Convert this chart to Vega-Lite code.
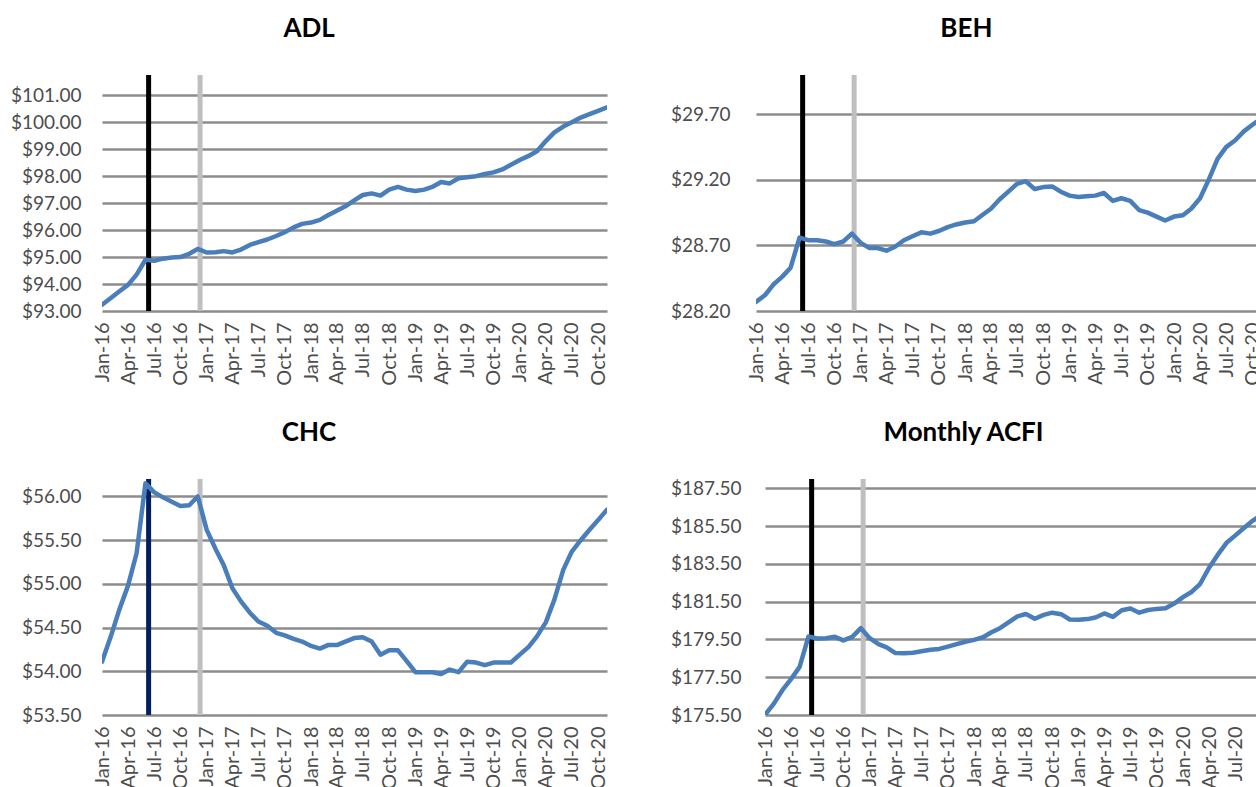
{
  "$schema": "https://vega.github.io/schema/vega-lite/v6.json",
  "padding": {"left": 10, "top": 15, "right": 0, "bottom": 0},
  "background": "white",
  "config": {
    "view": {"stroke": null},
    "font": "Lato",
    "axis": {"labelFont": "Lato", "labelColor": "#4d4d4d", "title": null},
    "title": {"font": "Lato", "fontSize": 26, "fontWeight": "bold", "color": "#000000", "offset": 31, "frame": "bounds", "anchor": "middle", "baseline": "alphabetic"}
  },
  "datasets": {
    "series": [
      {"date": "2016-01-01", "ADL": 93.23, "BEH": 28.27, "CHC": 54.11, "ACFI": 175.50},
      {"date": "2016-02-01", "ADL": 93.48, "BEH": 28.32, "CHC": 54.40, "ACFI": 176.10},
      {"date": "2016-03-01", "ADL": 93.72, "BEH": 28.40, "CHC": 54.70, "ACFI": 176.80},
      {"date": "2016-04-01", "ADL": 93.97, "BEH": 28.46, "CHC": 54.98, "ACFI": 177.40},
      {"date": "2016-05-01", "ADL": 94.35, "BEH": 28.53, "CHC": 55.35, "ACFI": 178.05},
      {"date": "2016-06-01", "ADL": 94.90, "BEH": 28.76, "CHC": 56.15, "ACFI": 179.66},
      {"date": "2016-07-01", "ADL": 94.86, "BEH": 28.74, "CHC": 56.05, "ACFI": 179.55},
      {"date": "2016-08-01", "ADL": 94.94, "BEH": 28.74, "CHC": 55.99, "ACFI": 179.57},
      {"date": "2016-09-01", "ADL": 94.98, "BEH": 28.73, "CHC": 55.94, "ACFI": 179.64},
      {"date": "2016-10-01", "ADL": 95.00, "BEH": 28.71, "CHC": 55.89, "ACFI": 179.45},
      {"date": "2016-11-01", "ADL": 95.12, "BEH": 28.73, "CHC": 55.90, "ACFI": 179.64},
      {"date": "2016-12-01", "ADL": 95.30, "BEH": 28.79, "CHC": 56.00, "ACFI": 180.10},
      {"date": "2017-01-01", "ADL": 95.17, "BEH": 28.72, "CHC": 55.62, "ACFI": 179.57},
      {"date": "2017-02-01", "ADL": 95.18, "BEH": 28.68, "CHC": 55.40, "ACFI": 179.25},
      {"date": "2017-03-01", "ADL": 95.22, "BEH": 28.68, "CHC": 55.22, "ACFI": 179.08},
      {"date": "2017-04-01", "ADL": 95.17, "BEH": 28.66, "CHC": 54.95, "ACFI": 178.78},
      {"date": "2017-05-01", "ADL": 95.28, "BEH": 28.69, "CHC": 54.80, "ACFI": 178.77},
      {"date": "2017-06-01", "ADL": 95.45, "BEH": 28.74, "CHC": 54.67, "ACFI": 178.80},
      {"date": "2017-07-01", "ADL": 95.55, "BEH": 28.77, "CHC": 54.57, "ACFI": 178.88},
      {"date": "2017-08-01", "ADL": 95.65, "BEH": 28.80, "CHC": 54.52, "ACFI": 178.96},
      {"date": "2017-09-01", "ADL": 95.78, "BEH": 28.79, "CHC": 54.44, "ACFI": 179.00},
      {"date": "2017-10-01", "ADL": 95.92, "BEH": 28.81, "CHC": 54.41, "ACFI": 179.12},
      {"date": "2017-11-01", "ADL": 96.10, "BEH": 28.84, "CHC": 54.37, "ACFI": 179.25},
      {"date": "2017-12-01", "ADL": 96.23, "BEH": 28.86, "CHC": 54.34, "ACFI": 179.38},
      {"date": "2018-01-01", "ADL": 96.28, "BEH": 28.875, "CHC": 54.29, "ACFI": 179.48},
      {"date": "2018-02-01", "ADL": 96.38, "BEH": 28.885, "CHC": 54.26, "ACFI": 179.62},
      {"date": "2018-03-01", "ADL": 96.55, "BEH": 28.93, "CHC": 54.30, "ACFI": 179.87},
      {"date": "2018-04-01", "ADL": 96.72, "BEH": 28.98, "CHC": 54.30, "ACFI": 180.10},
      {"date": "2018-05-01", "ADL": 96.88, "BEH": 29.05, "CHC": 54.34, "ACFI": 180.40},
      {"date": "2018-06-01", "ADL": 97.10, "BEH": 29.11, "CHC": 54.38, "ACFI": 180.72},
      {"date": "2018-07-01", "ADL": 97.30, "BEH": 29.17, "CHC": 54.39, "ACFI": 180.85},
      {"date": "2018-08-01", "ADL": 97.36, "BEH": 29.19, "CHC": 54.34, "ACFI": 180.60},
      {"date": "2018-09-01", "ADL": 97.28, "BEH": 29.13, "CHC": 54.19, "ACFI": 180.80},
      {"date": "2018-10-01", "ADL": 97.50, "BEH": 29.145, "CHC": 54.24, "ACFI": 180.92},
      {"date": "2018-11-01", "ADL": 97.60, "BEH": 29.15, "CHC": 54.24, "ACFI": 180.84},
      {"date": "2018-12-01", "ADL": 97.50, "BEH": 29.11, "CHC": 54.12, "ACFI": 180.56},
      {"date": "2019-01-01", "ADL": 97.45, "BEH": 29.08, "CHC": 53.99, "ACFI": 180.54},
      {"date": "2019-02-01", "ADL": 97.50, "BEH": 29.07, "CHC": 53.99, "ACFI": 180.58},
      {"date": "2019-03-01", "ADL": 97.60, "BEH": 29.075, "CHC": 53.99, "ACFI": 180.66},
      {"date": "2019-04-01", "ADL": 97.78, "BEH": 29.08, "CHC": 53.97, "ACFI": 180.88},
      {"date": "2019-05-01", "ADL": 97.73, "BEH": 29.10, "CHC": 54.02, "ACFI": 180.70},
      {"date": "2019-06-01", "ADL": 97.92, "BEH": 29.04, "CHC": 53.99, "ACFI": 181.05},
      {"date": "2019-07-01", "ADL": 97.96, "BEH": 29.06, "CHC": 54.11, "ACFI": 181.14},
      {"date": "2019-08-01", "ADL": 98.00, "BEH": 29.04, "CHC": 54.10, "ACFI": 180.92},
      {"date": "2019-09-01", "ADL": 98.08, "BEH": 28.97, "CHC": 54.07, "ACFI": 181.06},
      {"date": "2019-10-01", "ADL": 98.14, "BEH": 28.95, "CHC": 54.10, "ACFI": 181.12},
      {"date": "2019-11-01", "ADL": 98.25, "BEH": 28.92, "CHC": 54.10, "ACFI": 181.16},
      {"date": "2019-12-01", "ADL": 98.42, "BEH": 28.89, "CHC": 54.10, "ACFI": 181.40},
      {"date": "2020-01-01", "ADL": 98.60, "BEH": 28.92, "CHC": 54.19, "ACFI": 181.74},
      {"date": "2020-02-01", "ADL": 98.75, "BEH": 28.93, "CHC": 54.28, "ACFI": 182.03},
      {"date": "2020-03-01", "ADL": 98.92, "BEH": 28.98, "CHC": 54.40, "ACFI": 182.45},
      {"date": "2020-04-01", "ADL": 99.30, "BEH": 29.06, "CHC": 54.56, "ACFI": 183.30},
      {"date": "2020-05-01", "ADL": 99.62, "BEH": 29.20, "CHC": 54.82, "ACFI": 183.98},
      {"date": "2020-06-01", "ADL": 99.84, "BEH": 29.36, "CHC": 55.16, "ACFI": 184.62},
      {"date": "2020-07-01", "ADL": 100.00, "BEH": 29.45, "CHC": 55.37, "ACFI": 185.00},
      {"date": "2020-08-01", "ADL": 100.17, "BEH": 29.50, "CHC": 55.50, "ACFI": 185.40},
      {"date": "2020-09-01", "ADL": 100.30, "BEH": 29.57, "CHC": 55.62, "ACFI": 185.80},
      {"date": "2020-10-01", "ADL": 100.42, "BEH": 29.62, "CHC": 55.73, "ACFI": 186.10},
      {"date": "2020-11-01", "ADL": 100.55, "BEH": 29.67, "CHC": 55.85, "ACFI": 186.40}
    ],
    "events": [
      {"date": "2016-06-12", "event": "first"},
      {"date": "2016-12-09", "event": "second"}
    ]
  },
  "vconcat": [
    {
      "hconcat": [
        {
          "title": "ADL",
          "width": 505, "height": 236,
          "layer": [
            {
              "data": {"name": "events"},
              "transform": [{"filter": "datum.event === 'first'"}],
              "mark": {"type": "rule", "strokeWidth": 5, "color": "#000000"},
              "encoding": {"x": {"field": "date", "type": "temporal", "scale": {"type": "utc", "nice": false}}}
            },
            {
              "data": {"name": "events"},
              "transform": [{"filter": "datum.event === 'second'"}],
              "mark": {"type": "rule", "strokeWidth": 5, "color": "#bfbfbf"},
              "encoding": {"x": {"field": "date", "type": "temporal", "scale": {"type": "utc", "nice": false}}}
            },
            {
              "data": {"name": "series"},
              "mark": {"type": "line", "color": "#4a7ebb", "strokeWidth": 4.5, "strokeCap": "round", "strokeJoin": "round", "clip": true},
              "encoding": {
                "x": {"field": "date", "type": "temporal", "scale": {"type": "utc", "nice": false},
                  "axis": {"format": "%b-%y", "tickCount": {"interval": "month", "step": 3}, "labelAngle": -90, "labelFontSize": 20, "labelPadding": 11, "ticks": false, "domain": false, "grid": false, "labelOverlap": false, "labelFlush": false, "labelBound": false, "minExtent": 80, "maxExtent": 80}},
                "y": {"field": "ADL", "type": "quantitative", "scale": {"domain": [93, 101.75], "nice": false, "zero": false},
                  "axis": {"values": [93, 94, 95, 96, 97, 98, 99, 100, 101], "format": "$,.2f", "grid": true, "gridColor": "#8c8c8c", "gridWidth": 2.5, "domain": false, "ticks": false, "labelFontSize": 19, "labelPadding": 21, "minExtent": 92, "maxExtent": 92}}
              }
            }
          ]
        },
        {
          "title": "BEH",
          "width": 503, "height": 236,
          "layer": [
            {
              "data": {"name": "events"},
              "transform": [{"filter": "datum.event === 'first'"}],
              "mark": {"type": "rule", "strokeWidth": 5, "color": "#000000"},
              "encoding": {"x": {"field": "date", "type": "temporal", "scale": {"type": "utc", "nice": false, "domain": [{"year": 2016, "month": 1, "date": 1, "utc": true}, {"year": 2020, "month": 10, "date": 24, "utc": true}]}}}
            },
            {
              "data": {"name": "events"},
              "transform": [{"filter": "datum.event === 'second'"}],
              "mark": {"type": "rule", "strokeWidth": 5, "color": "#bfbfbf"},
              "encoding": {"x": {"field": "date", "type": "temporal", "scale": {"type": "utc", "nice": false, "domain": [{"year": 2016, "month": 1, "date": 1, "utc": true}, {"year": 2020, "month": 10, "date": 24, "utc": true}]}}}
            },
            {
              "data": {"name": "series"},
              "mark": {"type": "line", "color": "#4a7ebb", "strokeWidth": 4.5, "strokeCap": "round", "strokeJoin": "round", "clip": true},
              "encoding": {
                "x": {"field": "date", "type": "temporal", "scale": {"type": "utc", "nice": false, "domain": [{"year": 2016, "month": 1, "date": 1, "utc": true}, {"year": 2020, "month": 10, "date": 24, "utc": true}]},
                  "axis": {"format": "%b-%y", "tickCount": {"interval": "month", "step": 3}, "labelAngle": -90, "labelFontSize": 20, "labelPadding": 11, "ticks": false, "domain": false, "grid": false, "labelOverlap": false, "labelFlush": false, "labelBound": false, "minExtent": 80, "maxExtent": 80}},
                "y": {"field": "BEH", "type": "quantitative", "scale": {"domain": [28.2, 30.0], "nice": false, "zero": false},
                  "axis": {"values": [28.2, 28.7, 29.2, 29.7], "format": "$,.2f", "grid": true, "gridColor": "#8c8c8c", "gridWidth": 2.5, "domain": false, "ticks": false, "labelFontSize": 19, "labelPadding": 26, "minExtent": 85, "maxExtent": 85}}
              }
            }
          ]
        }
      ],
      "spacing": 61
    },
    {
      "hconcat": [
        {
          "title": "CHC",
          "width": 505, "height": 236,
          "layer": [
            {
              "data": {"name": "events"},
              "transform": [{"filter": "datum.event === 'first'"}],
              "mark": {"type": "rule", "strokeWidth": 5, "color": "#002060"},
              "encoding": {"x": {"field": "date", "type": "temporal", "scale": {"type": "utc", "nice": false}}}
            },
            {
              "data": {"name": "events"},
              "transform": [{"filter": "datum.event === 'second'"}],
              "mark": {"type": "rule", "strokeWidth": 5, "color": "#bfbfbf"},
              "encoding": {"x": {"field": "date", "type": "temporal", "scale": {"type": "utc", "nice": false}}}
            },
            {
              "data": {"name": "series"},
              "mark": {"type": "line", "color": "#4a7ebb", "strokeWidth": 4.5, "strokeCap": "round", "strokeJoin": "round", "clip": true},
              "encoding": {
                "x": {"field": "date", "type": "temporal", "scale": {"type": "utc", "nice": false},
                  "axis": {"format": "%b-%y", "tickCount": {"interval": "month", "step": 3}, "labelAngle": -90, "labelFontSize": 20, "labelPadding": 11, "ticks": false, "domain": false, "grid": false, "labelOverlap": false, "labelFlush": false, "labelBound": false, "minExtent": 72, "maxExtent": 72}},
                "y": {"field": "CHC", "type": "quantitative", "scale": {"domain": [53.5, 56.2], "nice": false, "zero": false},
                  "axis": {"values": [53.5, 54, 54.5, 55, 55.5, 56], "format": "$,.2f", "grid": true, "gridColor": "#8c8c8c", "gridWidth": 2.5, "domain": false, "ticks": false, "labelFontSize": 19, "labelPadding": 21, "minExtent": 92, "maxExtent": 92}}
              }
            }
          ]
        },
        {
          "title": "Monthly ACFI",
          "width": 493, "height": 236,
          "layer": [
            {
              "data": {"name": "events"},
              "transform": [{"filter": "datum.event === 'first'"}],
              "mark": {"type": "rule", "strokeWidth": 5, "color": "#000000"},
              "encoding": {"x": {"field": "date", "type": "temporal", "scale": {"type": "utc", "nice": false, "domain": [{"year": 2016, "month": 1, "date": 1, "utc": true}, {"year": 2020, "month": 9, "date": 19, "utc": true}]}}}
            },
            {
              "data": {"name": "events"},
              "transform": [{"filter": "datum.event === 'second'"}],
              "mark": {"type": "rule", "strokeWidth": 5, "color": "#bfbfbf"},
              "encoding": {"x": {"field": "date", "type": "temporal", "scale": {"type": "utc", "nice": false, "domain": [{"year": 2016, "month": 1, "date": 1, "utc": true}, {"year": 2020, "month": 9, "date": 19, "utc": true}]}}}
            },
            {
              "data": {"name": "series"},
              "mark": {"type": "line", "color": "#4a7ebb", "strokeWidth": 4.5, "strokeCap": "round", "strokeJoin": "round", "clip": true},
              "encoding": {
                "x": {"field": "date", "type": "temporal", "scale": {"type": "utc", "nice": false, "domain": [{"year": 2016, "month": 1, "date": 1, "utc": true}, {"year": 2020, "month": 9, "date": 19, "utc": true}]},
                  "axis": {"format": "%b-%y", "tickCount": {"interval": "month", "step": 3}, "labelAngle": -90, "labelFontSize": 20, "labelPadding": 11, "ticks": false, "domain": false, "grid": false, "labelOverlap": false, "labelFlush": false, "labelBound": false, "minExtent": 72, "maxExtent": 72}},
                "y": {"field": "ACFI", "type": "quantitative", "scale": {"domain": [175.5, 188.0], "nice": false, "zero": false},
                  "axis": {"values": [175.5, 177.5, 179.5, 181.5, 183.5, 185.5, 187.5], "format": "$,.2f", "grid": true, "gridColor": "#8c8c8c", "gridWidth": 2.5, "domain": false, "ticks": false, "labelFontSize": 19, "labelPadding": 24, "minExtent": 96, "maxExtent": 96}}
              }
            }
          ]
        }
      ],
      "spacing": 60
    }
  ],
  "spacing": 28
}
